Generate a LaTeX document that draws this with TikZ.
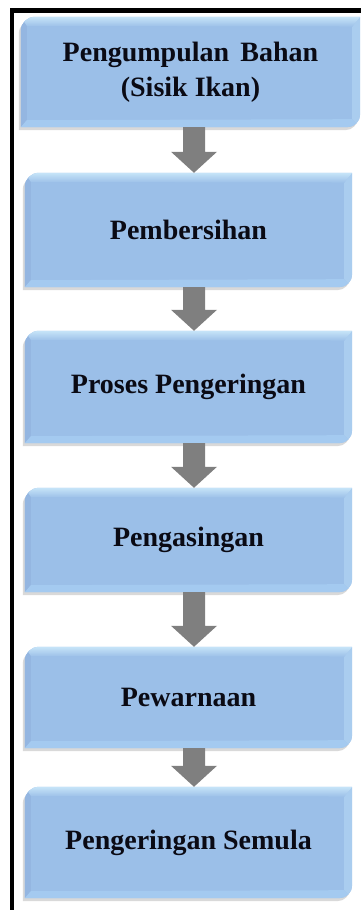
\documentclass[tikz,border=0pt]{standalone}
\usepackage{fontspec}
\setmainfont{Liberation Serif}
\usetikzlibrary{calc,shadows}
\pgfdeclarelayer{background}
\pgfsetlayers{background,main}

\definecolor{boxbase}{HTML}{9BBFE8}
\definecolor{boxlight}{HTML}{C6E4F8}
\definecolor{boxright}{HTML}{AACDEF}
\definecolor{boxleft}{HTML}{94B6E1}
\definecolor{boxbottom}{HTML}{A4CAF0}
\definecolor{arrowgray}{HTML}{7F7F7F}
\definecolor{textdark}{HTML}{0A0A14}

\tikzset{
  stepbox/.style={minimum width=327pt, inner sep=0pt, align=center,
    font=\fontsize{28}{35}\selectfont\bfseries, text=textdark},
  % outline with rounded top-left and bottom-right corners
  boxpath/.style={insert path={(#1.south west) -- ([yshift=-14pt]#1.north west)
    arc[start angle=180,end angle=90,radius=14pt] -- (#1.north east)
    -- ([yshift=13pt]#1.south east) arc[start angle=0,end angle=-90,radius=13pt] -- cycle}},
}

% bevelled blue panel behind a step node
\newcommand\bevelbox[1]{%
  \begin{pgfonlayer}{background}
    \fill[boxbase, drop shadow={shadow xshift=-2pt, shadow yshift=-3pt, opacity=0.3}, boxpath=#1];
    \begin{scope}
      \clip[boxpath=#1];
      \fill[boxleft] (#1.north west) -- ([shift={(6pt,-9pt)}]#1.north west)
        -- ([shift={(6pt,7pt)}]#1.south west) -- (#1.south west) -- cycle;
      \fill[boxbottom] (#1.south west) -- ([shift={(6pt,7pt)}]#1.south west)
        -- ([shift={(-8pt,8pt)}]#1.south east) -- (#1.south east) -- cycle;
      \fill[boxright] (#1.north east) -- ([shift={(-8pt,-10pt)}]#1.north east)
        -- ([shift={(-8pt,8pt)}]#1.south east) -- (#1.south east) -- cycle;
      \shade[top color=boxlight, bottom color=boxbase] (#1.north west) -- (#1.north east)
        -- ([shift={(-8pt,-10pt)}]#1.north east) -- ([shift={(6pt,-9pt)}]#1.north west) -- cycle;
    \end{scope}
  \end{pgfonlayer}}

% thick downward block arrow between two steps
\newcommand\flowarrow[2]{%
  \fill[arrowgray] let \p1=(#1.south -| axis), \p2=(#2.north -| axis) in
    (\x1-11pt,\y1) -- (\x1+11pt,\y1) -- (\x1+11pt,\y2+21pt) -- (\x1+23pt,\y2+21pt)
    -- (\x2,\y2) -- (\x1-23pt,\y2+21pt) -- (\x1-11pt,\y2+21pt) -- cycle;}

\begin{document}
\begin{tikzpicture}[x=1pt,y=1pt]
\useasboundingbox (0,0) rectangle (361,910);

% page frame (left and top rules)
\fill[black] (10,0) rectangle (14,902);
\fill[black] (10,897) rectangle (361,902);

\coordinate (axis) at (194,0);

\node[stepbox, minimum width=339pt, minimum height=110pt] (b1) at (190.5,838)
  {Pengumpulan\hspace{0.4em}Bahan\\(Sisik Ikan)};
\node[stepbox, minimum height=114pt] (b2) at (188.5,680) {\raisebox{-3pt}{Pembersihan}};
\node[stepbox, minimum height=112pt] (b3) at (188.5,523) {\raisebox{-3pt}{Proses Pengeringan}};
\node[stepbox, minimum height=104pt] (b4) at (188.5,370) {\raisebox{-3pt}{Pengasingan}};
\node[stepbox, minimum height=101pt] (b5) at (188.5,212.5) {\raisebox{-3pt}{Pewarnaan}};
\node[stepbox, minimum height=111pt] (b6) at (188.5,67.5) {\raisebox{-3pt}{Pengeringan Semula}};

\bevelbox{b1}
\bevelbox{b2}
\bevelbox{b3}
\bevelbox{b4}
\bevelbox{b5}
\bevelbox{b6}

\flowarrow{b1}{b2}
\flowarrow{b2}{b3}
\flowarrow{b3}{b4}
\flowarrow{b4}{b5}
\flowarrow{b5}{b6}
\end{tikzpicture}
\end{document}
